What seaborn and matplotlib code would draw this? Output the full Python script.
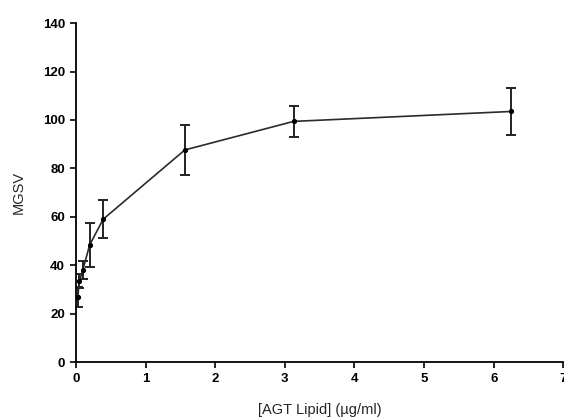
import matplotlib
matplotlib.use("Agg")
import matplotlib.pyplot as plt
import seaborn as sns
import pandas as pd

# Lipid concentration series (two-fold dilutions) and mean MGSV with SD
concentration = [0.0244, 0.0488, 0.0977, 0.195, 0.39, 1.5625, 3.125, 6.25]
mgsv = [26.7, 33.5, 38.0, 48.3, 59.0, 87.6, 99.4, 103.5]
mgsv_err = [4.1, 3.0, 3.6, 9.0, 7.8, 10.4, 6.3, 9.7]

x_ticks = [0, 1, 2, 3, 4, 5, 6, 7]
y_ticks = [0, 20, 40, 60, 80, 100, 120, 140]

df = pd.DataFrame({"conc": concentration, "mgsv": mgsv, "err": mgsv_err})

sns.set_style("ticks")
plt.rcParams["font.family"] = ["Liberation Sans", "DejaVu Sans"]

fig = plt.figure(figsize=(5.64, 4.2), dpi=100)
ax = fig.add_axes([0.1348, 0.138, 0.864, 0.807])

ax.errorbar(df["conc"], df["mgsv"], yerr=df["err"], fmt="none",
            ecolor="#222222", elinewidth=1.4, capsize=3.3, capthick=1.4,
            zorder=2)
sns.lineplot(data=df, x="conc", y="mgsv", ax=ax, color="#2b2b2b",
             linewidth=1.2, marker="o", markersize=3,
             markerfacecolor="black", markeredgecolor="black", zorder=3)

ax.set_xlim(0, 7)
ax.set_ylim(0, 140)
ax.set_xticks(x_ticks)
ax.set_yticks(y_ticks)
ax.tick_params(axis="both", direction="out", length=4.5, width=1.2,
               labelsize=9.5, colors="black", pad=3.5)
for lbl in ax.get_xticklabels() + ax.get_yticklabels():
    lbl.set_fontweight("bold")
for side in ("left", "bottom"):
    ax.spines[side].set_linewidth(1.3)
    ax.spines[side].set_color("black")
sns.despine(ax=ax)

ax.set_xlabel("[AGT Lipid] (µg/ml)", fontsize=10.5, labelpad=13)
ax.set_ylabel("MGSV", fontsize=10.5, labelpad=12)

fig.savefig("out.png", dpi=100)
